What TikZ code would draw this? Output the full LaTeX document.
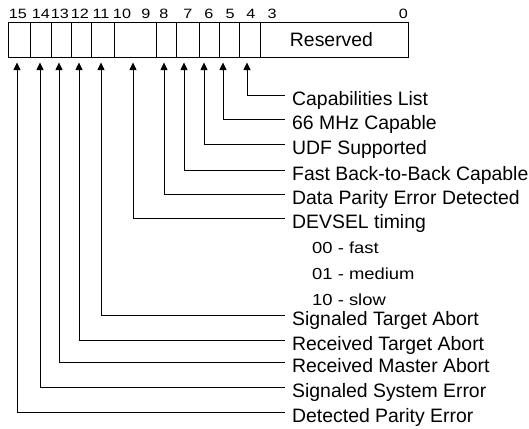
\documentclass[tikz,border=0pt]{standalone}
\usepackage{fontspec}
\setmainfont{Liberation Sans}
\usetikzlibrary{arrows.meta}
\begin{document}
\begin{tikzpicture}[x=1pt,y=-1pt,
  cell/.style={draw, line width=0.8pt, minimum height=35pt, inner sep=0pt, outer sep=0pt},
  bitno/.style={anchor=base, inner sep=0pt, font=\fontsize{13.5}{15}\selectfont},
  lbl/.style={anchor=west, inner xsep=7pt, inner ysep=0pt, text height=21pt, text depth=0pt,
              font=\fontsize{19.4}{22}\selectfont},
  sub/.style={anchor=base west, inner sep=0pt, font=\fontsize{16}{18}\selectfont},
  arr/.style={line width=0.8pt, -{Triangle[length=7.5pt,width=7pt]}}
]
\useasboundingbox (0,0) rectangle (529,428);

% register cells
\node[cell, minimum width=22pt]  (c15) at (19,39.5) {};
\node[cell, minimum width=21pt]  (c14) at (40.5,39.5) {};
\node[cell, minimum width=20pt]  (c13) at (61,39.5) {};
\node[cell, minimum width=20pt]  (c12) at (81,39.5) {};
\node[cell, minimum width=23pt]  (c11) at (102.5,39.5) {};
\node[cell, minimum width=42pt]  (c10) at (135,39.5) {};
\node[cell, minimum width=20pt]  (c8)  at (166,39.5) {};
\node[cell, minimum width=23pt]  (c7)  at (187.5,39.5) {};
\node[cell, minimum width=20pt]  (c6)  at (209,39.5) {};
\node[cell, minimum width=20pt]  (c5)  at (229,39.5) {};
\node[cell, minimum width=21pt]  (c4)  at (249.5,39.5) {};
\node[cell, minimum width=148pt, font=\fontsize{19.4}{22}\selectfont] (res) at (334,39.5)
  {\hspace*{-5pt}Reserved};

% bit numbers
\node[bitno] (b15) at (18,19)  {\scalebox{1.2}[1]{15}};
\node[bitno] (b14) at (41,19)  {\scalebox{1.2}[1]{14}};
\node[bitno] (b13) at (60,19)  {\scalebox{1.2}[1]{13}};
\node[bitno] (b12) at (80,19)  {\scalebox{1.2}[1]{12}};
\node[bitno] (b11) at (101,19) {\scalebox{1.2}[1]{11}};
\node[bitno] (b10) at (122,19) {\scalebox{1.2}[1]{10}};
\node[bitno] (b9)  at (146,19) {\scalebox{1.2}[1]{9}};
\node[bitno] (b8)  at (164,19) {\scalebox{1.2}[1]{8}};
\node[bitno] (b7)  at (188,19) {\scalebox{1.2}[1]{7}};
\node[bitno] (b6)  at (209,19) {\scalebox{1.2}[1]{6}};
\node[bitno] (b5)  at (230,19) {\scalebox{1.2}[1]{5}};
\node[bitno] (b4)  at (251,19) {\scalebox{1.2}[1]{4}};
\node[bitno] (b3)  at (272,19) {\scalebox{1.2}[1]{3}};
\node[bitno, anchor=base east] (b0) at (408,19) {\scalebox{1.2}[1]{0}};

% field descriptions
\node[lbl] (l4)  at (285,95)  {Capabilities List};
\node[lbl] (l5)  at (285,119) {66 MHz Capable};
\node[lbl] (l6)  at (285,144) {UDF Supported};
\node[lbl] (l7)  at (285,170) {Fast Back-to-Back Capable};
\node[lbl] (l8)  at (285,194) {Data Parity Error Detected};
\node[lbl] (l10) at (285,218) {DEVSEL timing};
\node[lbl] (l11) at (285,315) {Signaled Target Abort};
\node[lbl] (l12) at (285,340) {Received Target Abort};
\node[lbl] (l13) at (285,362) {Received Master Abort};
\node[lbl] (l14) at (285,387) {Signaled System Error};
\node[lbl] (l15) at (285,412) {Detected Parity Error};

% DEVSEL encodings
\node[sub] (s0) at (312,253) {\scalebox{1.15}[1]{00 - fast}};
\node[sub] (s1) at (312,279) {\scalebox{1.15}[1]{01 - medium}};
\node[sub] (s2) at (312,305) {\scalebox{1.15}[1]{10 - slow}};

% leader arrows
\draw[arr] (l4.west)  -| ([xshift=-2.5pt,yshift=-5.5pt]c4.south);
\draw[arr] (l5.west)  -| ([xshift=-6pt,yshift=-5.5pt]c5.south);
\draw[arr] (l6.west)  -| ([xshift=-5pt,yshift=-5.5pt]c6.south);
\draw[arr] (l7.west)  -| ([xshift=-3.5pt,yshift=-5.5pt]c7.south);
\draw[arr] (l8.west)  -| ([xshift=-2pt,yshift=-5.5pt]c8.south);
\draw[arr] (l10.west) -| ([xshift=-2pt,yshift=-5.5pt]c10.south);
\draw[arr] (l11.west) -| ([xshift=-1.5pt,yshift=-5.5pt]c11.south);
\draw[arr] (l12.west) -| ([xshift=-2pt,yshift=-5.5pt]c12.south);
\draw[arr] (l13.west) -| ([xshift=-2pt,yshift=-5.5pt]c13.south);
\draw[arr] (l14.west) -| ([xshift=-0.5pt,yshift=-5.5pt]c14.south);
\draw[arr] (l15.west) -| ([xshift=-2pt,yshift=-5.5pt]c15.south);
\end{tikzpicture}
\end{document}
